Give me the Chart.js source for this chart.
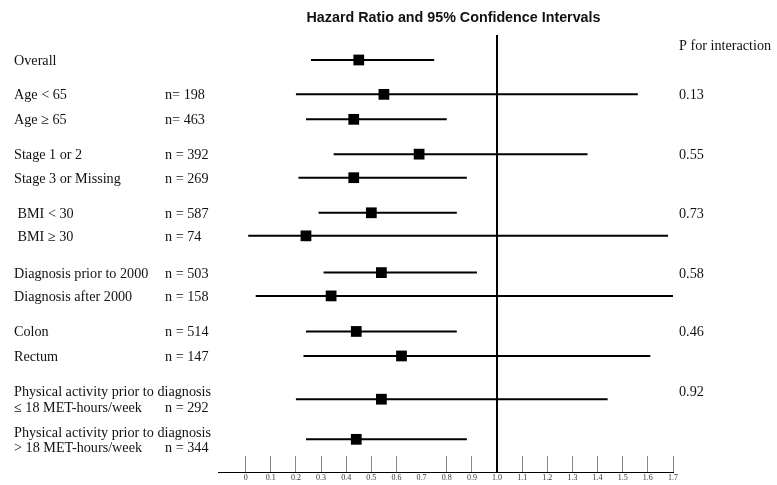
<!DOCTYPE html>
<html>
<head>
<meta charset="utf-8">
<script src="https://cdn.jsdelivr.net/npm/chart.js@4/dist/chart.umd.min.js"></script>
<style>
  body { margin: 0; background: #fff; }
</style>
</head>
<body>
<canvas id="forest" width="777" height="485"></canvas>
<script>
// subgroup rows, top to bottom
const rowNames = [
  ['Overall'],
  ['Age < 65'],
  ['Age \u2265 65'],
  ['Stage 1 or 2'],
  ['Stage 3 or Missing'],
  [' BMI < 30'],
  [' BMI \u2265 30'],
  ['Diagnosis prior to 2000'],
  ['Diagnosis after 2000'],
  ['Colon'],
  ['Rectum'],
  ['Physical activity prior to diagnosis', '\u2264 18 MET-hours/week'],
  ['Physical activity prior to diagnosis', '> 18 MET-hours/week']
];
const nLabels = ['', 'n= 198', 'n= 463', 'n = 392', 'n = 269', 'n = 587', 'n = 74',
  'n = 503', 'n = 158', 'n = 514', 'n = 147', 'n = 292', 'n = 344'];
const pValues = ['', '0.13', '', '0.55', '', '0.73', '', '0.58', '', '0.46', '', '0.92', ''];

// hazard ratios and 95% CI
const hr     = [0.45, 0.55, 0.43, 0.69, 0.43, 0.50, 0.24, 0.54, 0.34, 0.44, 0.62, 0.54, 0.44];
const ciLow  = [0.26, 0.20, 0.24, 0.35, 0.21, 0.29, 0.01, 0.31, 0.04, 0.24, 0.23, 0.20, 0.24];
const ciHigh = [0.75, 1.56, 0.80, 1.36, 0.88, 0.84, 1.68, 0.92, 1.70, 0.84, 1.61, 1.44, 0.88];

// x axis ticks
const tickValues = [0, 0.1, 0.2, 0.3, 0.4, 0.5, 0.6, 0.7, 0.8, 0.9, 1, 1.1, 1.2, 1.3, 1.4, 1.5, 1.6, 1.7];
const tickLabels = ['0', '0.1', '0.2', '0.3', '0.4', '0.5', '0.6', '0.7', '0.8', '0.9', '1.0',
  '1.1', '1.2', '1.3', '1.4', '1.5', '1.6', '1.7'];

const title = 'Hazard Ratio and 95% Confidence Intervals';

// vertical spacing between rows (in row units), groups get a bigger gap
const rowGap = [0, 1.43, 1.04, 1.45, 0.98, 1.46, 0.96, 1.53, 0.97, 1.48, 1.02, 1.8, 1.67];
const rowPos = [];
rowGap.reduce((acc, g) => { rowPos.push(acc + g); return acc + g; }, 0);

const lineGap = 15.6;
const transparent = 'rgba(0,0,0,0)';

const datasets = [{
  type: 'scatter',
  data: hr.map((v, i) => ({x: v, y: rowPos[i]})),
  pointStyle: 'rect',
  pointRadius: 7.6,
  backgroundColor: '#000',
  borderWidth: 0,
}];
hr.forEach((v, i) => {
  datasets.push({
    type: 'line',
    data: [{x: ciLow[i], y: rowPos[i]}, {x: ciHigh[i], y: rowPos[i]}],
    borderColor: '#000',
    borderWidth: 2,
    pointRadius: 0,
  });
});

const textPlugin = {
  id: 'forestText',
  afterDraw(chart) {
    const {ctx, scales: {y}} = chart;
    ctx.save();
    ctx.fillStyle = '#111';
    ctx.textBaseline = 'alphabetic';
    ctx.font = '14.2px "Liberation Serif", "Times New Roman", serif';
    rowNames.forEach((lines, i) => {
      const top = y.getPixelForValue(rowPos[i]) - (lines.length - 1) * lineGap / 2 + 5;
      lines.forEach((t, k) => ctx.fillText(t, 14, top + k * lineGap));
      ctx.fillText(nLabels[i], 165, top + (lines.length - 1) * lineGap);
      if (pValues[i]) ctx.fillText(pValues[i], 679, top);
    });
    ctx.fillText('P for interaction', 679, y.getPixelForValue(-0.63) + 5);
    ctx.font = 'bold 14.3px "Liberation Sans", Arial, sans-serif';
    ctx.textAlign = 'center';
    ctx.fillText(title, 453.5, 21.5);
    ctx.restore();
  }
};

new Chart(document.getElementById('forest'), {
  type: 'scatter',
  data: {datasets},
  options: {
    responsive: false,
    animation: false,
    layout: {padding: {left: 218, right: 104, top: 35, bottom: 0}},
    plugins: {legend: {display: false}, tooltip: {enabled: false}},
    scales: {
      x: {
        type: 'linear',
        min: -0.11,
        max: 1.7,
        afterBuildTicks: (scale) => { scale.ticks = tickValues.map(v => ({value: v})); },
        afterFit: (scale) => { scale.height = 13; },
        border: {display: true, color: '#000', width: 1},
        grid: {
          color: (c) => (c.tick && c.tick.value === 1 ? '#000' : transparent),
          lineWidth: (c) => (c.tick && c.tick.value === 1 ? 2 : 1),
          tickColor: (c) => {
            if (!c.tick) return '#888';
            if (c.tick.value === 1) return '#000';
            return c.tick.value === 0.7 ? transparent : '#888';
          },
          tickWidth: (c) => (c.tick && c.tick.value === 1 ? 2 : 1),
          tickLength: -16,
        },
        ticks: {
          autoSkip: false,
          maxRotation: 0,
          padding: 17,
          color: '#333',
          font: {family: '"Liberation Serif", "Times New Roman", serif', size: 8},
          callback: (val, i) => tickLabels[i],
        },
      },
      y: {
        type: 'linear',
        display: false,
        reverse: true,
        min: -1.04,
        max: 17.15,
      },
    },
  },
  plugins: [textPlugin],
});
</script>
</body>
</html>
